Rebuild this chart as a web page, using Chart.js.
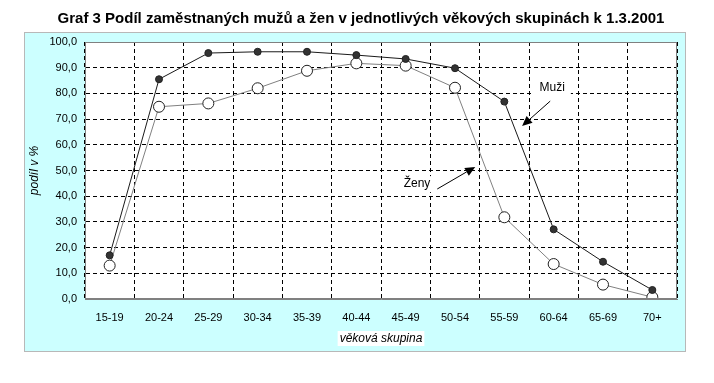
<!DOCTYPE html>
<html><head><meta charset="utf-8">
<script src="https://cdn.jsdelivr.net/npm/chart.js@4/dist/chart.umd.min.js"></script>
<style>html,body{margin:0;padding:0;background:#fff}#wrap{width:714px;height:383px;position:relative}</style>
</head><body><div id="wrap"><canvas id="c" width="714" height="383"></canvas></div>
<script>
const categories = ["15-19","20-24","25-29","30-34","35-39","40-44","45-49","50-54","55-59","60-64","65-69","70+"];
const muzi = [17.0, 85.5, 95.7, 96.2, 96.2, 94.9, 93.4, 89.8, 76.8, 27.1, 14.5, 3.5];
const zeny = [13.0, 74.8, 76.1, 82.0, 88.8, 91.7, 90.8, 82.2, 31.8, 13.6, 5.6, 0.7];
const titleText = "Graf 3 Podíl zaměstnaných mužů a žen v jednotlivých věkových skupinách k 1.3.2001";
const yTitle = "podíl v %";
const xTitle = "věková skupina";
const labelsAnn = [
  {text:"Muži", tx:8.97, ty:82.1, ax:8.93, ay:77.0, hx:8.36, hy:67.3},
  {text:"Ženy", tx:6.23, ty:44.7, ax:6.64, ay:42.8, hx:7.41, hy:51.4}
];
const FONT = "Arial, 'Liberation Sans', sans-serif";

const deco = {
  id:'deco',
  beforeDraw(chart){
    const ctx = chart.ctx, a = chart.chartArea;
    ctx.save();
    ctx.fillStyle='#ffffff'; ctx.fillRect(0,0,714,383);
    ctx.fillStyle='#ccffff'; ctx.fillRect(24,32,662,320);
    ctx.strokeStyle='#b8b8b8'; ctx.lineWidth=1; ctx.strokeRect(24.5,32.5,661,319);
    ctx.fillStyle='#ffffff'; ctx.fillRect(a.left,a.top,a.right-a.left,a.bottom-a.top);
    // title
    ctx.fillStyle='#000'; ctx.font='bold 15px '+FONT; ctx.textAlign='center'; ctx.textBaseline='middle';
    ctx.fillText(titleText, 361, 19);
    // y title
    ctx.font='italic 12px '+FONT;
    ctx.translate(35, (a.top+a.bottom)/2); ctx.rotate(-Math.PI/2);
    ctx.fillText(yTitle, 0, 0);
    ctx.restore();
    ctx.save();
    ctx.font='italic 12px '+FONT;
    const w = ctx.measureText(xTitle).width;
    const cx = (a.left+a.right)/2 + 0, cy = 338;
    ctx.fillStyle='#fff'; ctx.fillRect(cx-w/2-2, cy-7, w+4, 15);
    ctx.fillStyle='#000'; ctx.textAlign='center'; ctx.textBaseline='middle';
    ctx.fillText(xTitle, cx, cy+0.5);
    ctx.restore();
  },
  afterDatasetsDraw(chart){
    const ctx = chart.ctx, xs = chart.scales.x, ys = chart.scales.y;
    ctx.save();
    labelsAnn.forEach(l=>{
      const tx=xs.getPixelForValue(l.tx), ty=ys.getPixelForValue(l.ty);
      ctx.font='12px '+FONT;
      const w=ctx.measureText(l.text).width;
      ctx.fillStyle='#fff'; ctx.fillRect(tx-w/2-6, ty-8, w+12, 16);
      ctx.fillStyle='#000'; ctx.textAlign='center'; ctx.textBaseline='middle';
      ctx.fillText(l.text, tx, ty);
      const x1=xs.getPixelForValue(l.ax), y1=ys.getPixelForValue(l.ay);
      const x2=xs.getPixelForValue(l.hx), y2=ys.getPixelForValue(l.hy);
      const ang=Math.atan2(y2-y1,x2-x1), L=10, W=4.5;
      const bx=x2-L*Math.cos(ang), by=y2-L*Math.sin(ang);
      ctx.strokeStyle='#000'; ctx.lineWidth=1;
      ctx.beginPath(); ctx.moveTo(x1,y1); ctx.lineTo(bx,by); ctx.stroke();
      ctx.beginPath(); ctx.moveTo(x2,y2);
      ctx.lineTo(bx+W*Math.sin(ang), by-W*Math.cos(ang));
      ctx.lineTo(bx-W*Math.sin(ang), by+W*Math.cos(ang));
      ctx.closePath(); ctx.fillStyle='#000'; ctx.fill();
    });
    ctx.restore();
  }
};

new Chart(document.getElementById('c'), {
  type:'line',
  data:{labels:categories, datasets:[
    {label:'Ženy', data:zeny, borderColor:'#808080', borderWidth:1, backgroundColor:'#ffffff',
     pointRadius:5.5, pointBorderColor:'#222', pointBorderWidth:1, pointBackgroundColor:'#fff', tension:0, order:2},
    {label:'Muži', data:muzi, borderColor:'#1a1a1a', borderWidth:1, backgroundColor:'#333',
     pointRadius:3.5, pointBorderColor:'#222', pointBackgroundColor:'#333', tension:0, order:1}
  ]},
  options:{
    responsive:false, animation:false, events:[],
    layout:{padding:{left:0, top:42, right:37, bottom:0}},
    plugins:{legend:{display:false}, tooltip:{enabled:false}, title:{display:false}},
    scales:{
      x:{offset:true,
        grid:{offset:true, color:'#000', lineWidth:1, drawTicks:false, tickLength:0},
        border:{display:true, color:'#808080', dash:[4,3]},
        ticks:{padding:12, color:'#000', font:{family:FONT, size:11}, maxRotation:0, autoSkip:false},
        afterFit(s){ s.height = 84; }
      },
      y:{min:0, max:100,
        grid:{color:(c)=> (c.tick && (c.tick.value===0||c.tick.value===100)) ? 'rgba(0,0,0,0)' : '#000', lineWidth:1, drawTicks:false, tickLength:0},
        border:{display:true, color:'#808080', dash:[4,3]},
        ticks:{stepSize:10, padding:8, color:'#000', font:{family:FONT, size:11},
          callback:(v)=> v.toFixed(1).replace('.', ',')},
        afterFit(s){ s.width = 85; }
      }
    }
  },
  plugins:[deco, {
    id:'frame',
    afterDraw(chart){
      const ctx=chart.ctx, a=chart.chartArea;
      ctx.save(); ctx.strokeStyle='#808080'; ctx.lineWidth=1; ctx.setLineDash([]);
      ctx.strokeRect(Math.round(a.left)+0.5, Math.round(a.top)+0.5, Math.round(a.right-a.left)-1, Math.round(a.bottom-a.top)-1);
      ctx.restore();
    }
  }]
});
</script></body></html>
